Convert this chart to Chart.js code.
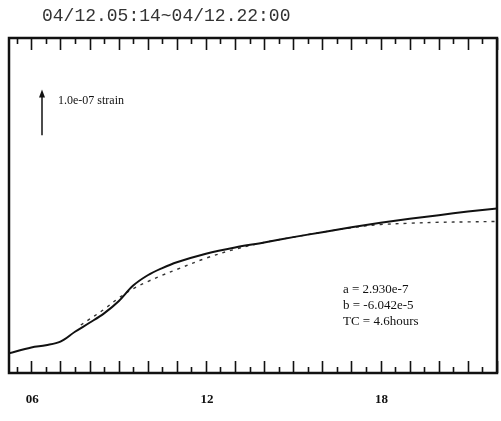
<!DOCTYPE html>
<html>
<head>
<meta charset="utf-8">
<script src="https://cdn.jsdelivr.net/npm/chart.js@4/dist/chart.umd.min.js"></script>
<style>
  html, body { margin: 0; padding: 0; background: #fff; }
  #wrap { width: 501px; height: 421px; position: relative; }
</style>
</head>
<body>
<div id="wrap"><canvas id="strainChart"></canvas></div>
<script>
// time span of the record (hours of the day)
const startHour = 5 + 14 / 60;
const endHour = 22;
const hourLabels = ['06', '12', '18'];
const labelHours = [6, 12, 18];

// observed strain (units of 1e-7)
const obsHours = [5.23, 6, 6.5, 7, 7.5, 8, 8.5, 9, 9.5, 10, 10.5, 11, 12, 13, 14, 15, 16, 17, 18, 19, 20, 21, 22];
const obsStrain = [0.44, 0.57, 0.62, 0.70, 0.92, 1.12, 1.33, 1.60, 1.95, 2.18, 2.34, 2.47, 2.66, 2.80, 2.91, 3.03, 3.14, 3.25, 3.35, 3.44, 3.52, 3.60, 3.67];

// fitted curve
const fitHours = [7.7, 8, 8.5, 9, 9.5, 10, 10.5, 11, 12, 13, 14, 15, 16, 17, 18, 19, 20, 21, 22];
const fitStrain = [1.07, 1.20, 1.42, 1.67, 1.88, 2.04, 2.18, 2.31, 2.56, 2.76, 2.91, 3.03, 3.14, 3.24, 3.31, 3.34, 3.36, 3.37, 3.38];

const fitParams = ['a = 2.930e-7', 'b = -6.042e-5', 'TC = 4.6hours'];
const titleText = '04/12.05:14~04/12.22:00';
const scaleText = '1.0e-07 strain';

const toPoints = (xs, ys) => xs.map((x, i) => ({ x: x, y: ys[i] }));

// frame, half-hour ticks, labels and the strain scale bar
const framePlugin = {
    id: 'frame',
    afterDatasetsDraw(chart) {
        const ctx = chart.ctx;
        const area = chart.chartArea;
        const xs = chart.scales.x;
        const ys = chart.scales.y;
        ctx.save();
        ctx.strokeStyle = '#111';
        ctx.fillStyle = '#111';

        // ticks on top and bottom, long on the hour
        ctx.lineWidth = 1.6;
        for (let h = 5.5; h <= endHour; h += 0.5) {
            const px = Math.round(xs.getPixelForValue(h)) + 0.5;
            const len = (h % 1 === 0) ? 12 : 6;
            ctx.beginPath();
            ctx.moveTo(px, area.bottom);
            ctx.lineTo(px, area.bottom - len);
            ctx.moveTo(px, area.top);
            ctx.lineTo(px, area.top + len);
            ctx.stroke();
        }

        // box
        ctx.lineWidth = 2.5;
        ctx.strokeRect(area.left, area.top, area.right - area.left, area.bottom - area.top);

        // hour labels
        ctx.font = 'bold 13px "Liberation Serif", serif';
        ctx.textAlign = 'center';
        ctx.textBaseline = 'middle';
        labelHours.forEach((h, i) => {
            ctx.fillText(hourLabels[i], xs.getPixelForValue(h) + 1, 400);
        });

        // title
        ctx.font = '18px "Liberation Mono", monospace';
        ctx.textAlign = 'left';
        ctx.fillStyle = '#333';
        ctx.fillText(titleText, 42, 16);

        // scale bar: one unit of 1e-7 strain
        ctx.fillStyle = '#111';
        const bx = 42;
        const yTop = ys.getPixelForValue(6.3);
        const yBot = ys.getPixelForValue(5.3);
        ctx.lineWidth = 1.5;
        ctx.beginPath();
        ctx.moveTo(bx, yBot);
        ctx.lineTo(bx, yTop + 4);
        ctx.stroke();
        ctx.beginPath();
        ctx.moveTo(bx, yTop - 1);
        ctx.lineTo(bx - 3, yTop + 7);
        ctx.lineTo(bx + 3, yTop + 7);
        ctx.closePath();
        ctx.fill();
        ctx.font = '12px "Liberation Serif", serif';
        ctx.fillText(scaleText, 58, yTop + 10);

        // fit parameters
        ctx.font = '13px "Liberation Serif", serif';
        fitParams.forEach((t, i) => {
            ctx.fillText(t, 343, 290 + i * 16);
        });
        ctx.restore();
    }
};

new Chart(document.getElementById('strainChart'), {
    type: 'scatter',
    data: {
        datasets: [
            {
                label: 'observed',
                data: toPoints(obsHours, obsStrain),
                showLine: true,
                borderColor: '#111',
                borderWidth: 2,
                pointRadius: 0,
                tension: 0.35,
            },
            {
                label: 'fit',
                data: toPoints(fitHours, fitStrain),
                showLine: true,
                borderColor: '#333',
                borderWidth: 1.4,
                borderDash: [3, 5],
                pointRadius: 0,
                tension: 0.35,
            },
        ],
    },
    options: {
        responsive: true,
        maintainAspectRatio: false,
        animation: false,
        layout: { padding: { left: 9, right: 4, top: 38, bottom: 48 } },
        plugins: {
            legend: { display: false },
            tooltip: { enabled: false },
        },
        scales: {
            x: { type: 'linear', min: startHour, max: endHour, display: false },
            y: { type: 'linear', min: 0, max: 7.47, display: false },
        },
    },
    plugins: [framePlugin],
});
</script>
</body>
</html>
